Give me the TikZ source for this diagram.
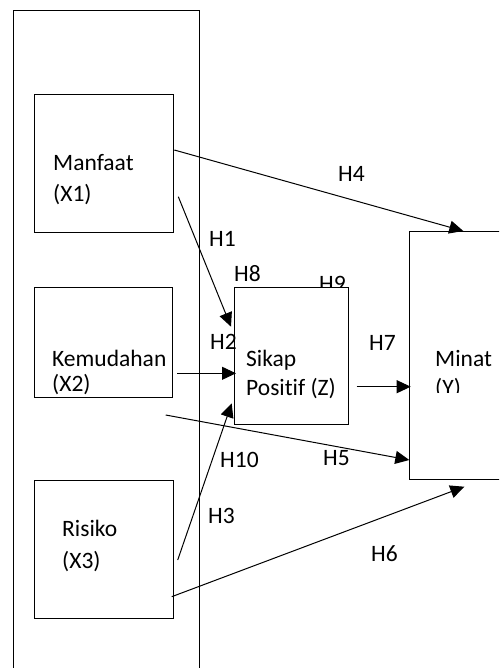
\documentclass[tikz,border=0pt]{standalone}
\usepackage{fontspec}
\setmainfont{Carlito}[Ligatures=NoCommon]
\usetikzlibrary{arrows.meta}

\begin{document}
\begin{tikzpicture}[x=1pt,y=-1pt]

\tikzset{
  varbox/.style={
    draw,
    fill=white,
    line width=1pt,
    inner sep=0pt,
    anchor=north west
  },
  vartext/.style={
    anchor=base west,
    inner sep=0pt,
    align=left,
    font=\fontsize{23.5}{#1}\selectfont
  },
  vartext/.default=29,
  hyplabel/.style={
    anchor=base west,
    inner sep=0pt,
    font=\fontsize{23.5}{29}\selectfont
  },
  hyparrow/.style={
    line width=1pt,
    -{Triangle[length=14pt,width=13pt]}
  }
}

% Page frame
\useasboundingbox (0,0) rectangle (499,668);
\clip (0,0) rectangle (499,668);

% Outer frame round the independent variables
\draw[line width=1pt] (13,668)--(13,11)--(199,11)--(199,668);

% Label behind the mediator box
\node[hyplabel] (h9) at (319,291) {H9};

% Independent variables
\node[varbox, minimum width=138.4pt, minimum height=138pt] (x1) at (34.3,94.3) {};
\node[varbox, minimum width=137.4pt, minimum height=109.7pt] (x2) at (34.3,287.3) {};
\node[varbox, minimum width=138.4pt, minimum height=138pt] (x3) at (34.3,480) {};

% Mediator and dependent variable
\node[varbox, minimum width=114.3pt, minimum height=137.3pt] (z) at (234,286.7) {};
\node[varbox, minimum width=100pt, minimum height=248pt] (y) at (409.3,231) {};

% Box texts (anchored at the baseline of the last line)
\node[vartext=32] (x1txt) at (53,202) {Manfaat\\(X1)};
\node[vartext=25] (x2txt) at (52,391) {Kemudahan\\(X2)};
\node[vartext=32] (x3txt) at (62,568) {Risiko\\(X3)};
\node[vartext] (ztxt) at (246,395) {Sikap\\Positif (Z)};
\begin{scope}
  \clip (409,231) rectangle (499,392);
  \node[vartext] (ytxt) at (435,395) {Minat\\(Y)};
\end{scope}

% Arrow ends
\coordinate (h4s) at (174.3,150);
\coordinate (h4e) at (463.3,231);
\coordinate (h1s) at (178.3,196.7);
\coordinate (h1e) at (231,326.7);
\coordinate (h2s) at (177.3,373.3);
\coordinate (h2e) at (236,373.3);
\coordinate (h10s) at (177.7,560);
\coordinate (h10e) at (231.7,403.3);
\coordinate (h5s) at (165.7,415);
\coordinate (h5e) at (409.3,460);
\coordinate (h6s) at (171.7,596.7);
\coordinate (h6e) at (464.3,486.7);
\coordinate (h7s) at (356.7,386.7);
\coordinate (h7e) at (410.7,386.7);

% Hypothesis paths
\draw[hyparrow] (h4s)--(h4e);
\draw[hyparrow] (h1s)--(h1e);
\draw[hyparrow] (h2s)--(h2e);
\draw[hyparrow] (h10s)--(h10e);
\draw[hyparrow] (h5s)--(h5e);
\draw[hyparrow] (h6s)--(h6e);
\draw[hyparrow] (h7s)--(h7e);

% Hypothesis labels
\node[hyplabel] (h4) at (338,182) {H4};
\node[hyplabel] (h1) at (209,246) {H1};
\node[hyplabel] (h8) at (234,281) {H8};
\node[hyplabel] (h2) at (210,349) {H2};
\node[hyplabel] (h7) at (369,350) {H7};
\node[hyplabel] (h10) at (220,467) {H10};
\node[hyplabel] (h5) at (323,465) {H5};
\node[hyplabel] (h3) at (208,523) {H3};
\node[hyplabel] (h6) at (371,561) {H6};

\end{tikzpicture}
\end{document}
